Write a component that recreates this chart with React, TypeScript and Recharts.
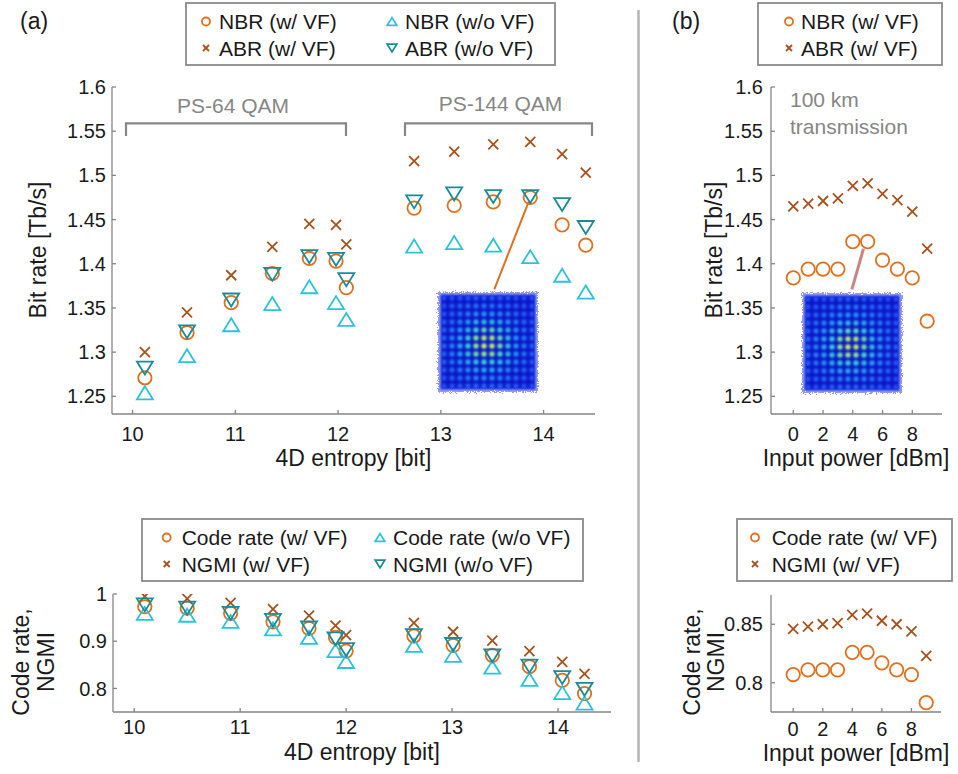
import React from 'react';
import { ScatterChart, Scatter, XAxis, YAxis, ReferenceLine } from 'recharts';

const FONT = '"Liberation Sans", Arial, Helvetica, sans-serif';

// (a) 4D entropy [bit] – the two (a) panels have different widths, so positions read per panel
const entropyTop = [10.12, 10.53, 10.96, 11.36, 11.72, 11.98, 12.08, 12.74, 13.13, 13.51, 13.87, 14.18, 14.41];
const entropyBottom = [10.1, 10.5, 10.91, 11.31, 11.65, 11.9, 12.0, 12.64, 13.01, 13.38, 13.73, 14.04, 14.25];

// (a) bit rate [Tb/s]
const nbrWithVF = [1.271, 1.322, 1.356, 1.389, 1.406, 1.403, 1.373, 1.463, 1.466, 1.47, 1.475, 1.444, 1.421];
const abrWithVF = [1.3, 1.345, 1.387, 1.419, 1.445, 1.444, 1.422, 1.516, 1.527, 1.535, 1.538, 1.524, 1.503];
const nbrNoVF = [1.254, 1.296, 1.331, 1.355, 1.374, 1.356, 1.337, 1.42, 1.424, 1.421, 1.408, 1.387, 1.368];
const abrNoVF = [1.282, 1.323, 1.359, 1.388, 1.408, 1.405, 1.382, 1.47, 1.479, 1.476, 1.476, 1.467, 1.441];

// (a) code rate / NGMI
const codeWithVF = [0.973, 0.97, 0.959, 0.941, 0.927, 0.908, 0.879, 0.911, 0.891, 0.87, 0.846, 0.817, 0.789];
const ngmiWithVF = [0.995, 0.99, 0.981, 0.968, 0.954, 0.933, 0.913, 0.939, 0.92, 0.901, 0.879, 0.856, 0.831];
const codeNoVF = [0.959, 0.955, 0.942, 0.926, 0.908, 0.88, 0.857, 0.891, 0.87, 0.845, 0.819, 0.791, 0.769];
const ngmiNoVF = [0.977, 0.97, 0.959, 0.944, 0.928, 0.905, 0.882, 0.912, 0.893, 0.869, 0.847, 0.823, 0.798];

// (b) input power [dBm]
const power = [0, 1, 2, 3, 4, 5, 6, 7, 8, 9];
const nbrPower = [1.384, 1.394, 1.394, 1.394, 1.425, 1.425, 1.404, 1.394, 1.384, 1.335];
const abrPower = [1.465, 1.468, 1.471, 1.474, 1.488, 1.491, 1.479, 1.472, 1.459, 1.417];
const codePower = [0.807, 0.811, 0.811, 0.811, 0.826, 0.826, 0.817, 0.811, 0.807, 0.783];
const ngmiPower = [0.846, 0.848, 0.85, 0.851, 0.858, 0.859, 0.853, 0.85, 0.844, 0.823];

const entropyTicks = [10, 11, 12, 13, 14];
const bitRateTicks = [1.25, 1.3, 1.35, 1.4, 1.45, 1.5, 1.55, 1.6];
const rateTicksA = [0.8, 0.9, 1];
const powerTicks = [0, 2, 4, 6, 8];
const rateTicksB = [0.8, 0.85];

const ORANGE = '#E0701F';
const BROWN = '#A5521E';
const CYAN = '#2CC2D9';
const TEAL = '#1B8C94';
const AXIS = '#858585';
const TEXT = '#1a1a1a';
const NOTE = '#868686';

const pts = (xs: number[], ys: number[]) => xs.map((x, i) => ({ x, y: ys[i] }));

type Kind = 'circle' | 'cross' | 'up' | 'down';

function marker(kind: Kind, cx: number, cy: number, s = 1) {
    if (kind === 'circle') {
        return <circle cx={cx} cy={cy} r={6.7 * s} fill="none" stroke={ORANGE} strokeWidth={1.8} />;
    }
    if (kind === 'cross') {
        const d = 5 * s;
        return (
            <path
                d={`M${cx - d},${cy - d}L${cx + d},${cy + d}M${cx - d},${cy + d}L${cx + d},${cy - d}`}
                stroke={BROWN}
                strokeWidth={1.8}
                fill="none"
            />
        );
    }
    const w = 8 * s;
    const h = 6.5 * s;
    if (kind === 'up') {
        return (
            <polygon
                points={`${cx},${cy - h} ${cx - w},${cy + h} ${cx + w},${cy + h}`}
                fill="none"
                stroke={CYAN}
                strokeWidth={1.8}
            />
        );
    }
    return (
        <polygon
            points={`${cx - w},${cy - h} ${cx + w},${cy - h} ${cx},${cy + h}`}
            fill="none"
            stroke={TEAL}
            strokeWidth={1.8}
        />
    );
}

const shape = (kind: Kind) => (p: any) => marker(kind, p.cx, p.cy);

const axisLine = { stroke: AXIS, strokeWidth: 1.3 };
const tick = { fill: TEXT, fontSize: 20, fontFamily: FONT };

function xAxis(domain: number[], ticks: number[], tickMargin: number) {
    return (
        <XAxis
            type="number"
            dataKey="x"
            domain={domain}
            ticks={ticks}
            interval={0}
            allowDataOverflow
            axisLine={axisLine}
            tickLine={axisLine}
            tickSize={-4}
            tickMargin={tickMargin}
            tick={tick}
            height={40}
        />
    );
}

function yAxis(domain: number[], ticks: number[], tickMargin = 10) {
    return (
        <YAxis
            type="number"
            dataKey="y"
            domain={domain}
            ticks={ticks}
            interval={0}
            allowDataOverflow
            axisLine={axisLine}
            tickLine={axisLine}
            tickSize={-4}
            tickMargin={tickMargin}
            tick={tick}
            width={60}
        />
    );
}

function BitRateEntropy() {
    return (
        <ScatterChart width={640} height={480} margin={{ top: 87, right: 45, bottom: 26, left: 52 }}>
            {xAxis([9.8, 14.5], entropyTicks, 17)}
            {yAxis([1.23, 1.6], bitRateTicks)}
            <ReferenceLine
                segment={[{ x: 13.52, y: 1.371 }, { x: 13.854, y: 1.47 }]}
                stroke={ORANGE}
                strokeWidth={2}
                ifOverflow="visible"
            />
            <Scatter data={pts(entropyTop, nbrWithVF)} shape={shape('circle')} isAnimationActive={false} />
            <Scatter data={pts(entropyTop, abrWithVF)} shape={shape('cross')} isAnimationActive={false} />
            <Scatter data={pts(entropyTop, nbrNoVF)} shape={shape('up')} isAnimationActive={false} />
            <Scatter data={pts(entropyTop, abrNoVF)} shape={shape('down')} isAnimationActive={false} />
        </ScatterChart>
    );
}

function RateEntropy() {
    return (
        <ScatterChart width={640} height={294} margin={{ top: 114, right: 29, bottom: 22, left: 53 }}>
            {xAxis([9.8, 14.5], entropyTicks, 12)}
            {yAxis([0.75, 1], rateTicksA)}
            <Scatter data={pts(entropyBottom, codeWithVF)} shape={shape('circle')} isAnimationActive={false} />
            <Scatter data={pts(entropyBottom, ngmiWithVF)} shape={shape('cross')} isAnimationActive={false} />
            <Scatter data={pts(entropyBottom, codeNoVF)} shape={shape('up')} isAnimationActive={false} />
            <Scatter data={pts(entropyBottom, ngmiNoVF)} shape={shape('down')} isAnimationActive={false} />
        </ScatterChart>
    );
}

function BitRatePower() {
    return (
        <ScatterChart width={318} height={480} margin={{ top: 87, right: 16, bottom: 26, left: 71 }}>
            {xAxis([-1.5, 10], powerTicks, 17)}
            {yAxis([1.23, 1.6], bitRateTicks, 12)}
            <ReferenceLine
                segment={[{ x: 3.94, y: 1.371 }, { x: 4.72, y: 1.417 }]}
                stroke="#C98585"
                strokeWidth={3}
                ifOverflow="visible"
            />
            <Scatter data={pts(power, nbrPower)} shape={shape('circle')} isAnimationActive={false} />
            <Scatter data={pts(power, abrPower)} shape={shape('cross')} isAnimationActive={false} />
        </ScatterChart>
    );
}

function RatePower() {
    return (
        <ScatterChart width={318} height={294} margin={{ top: 115, right: 17, bottom: 22, left: 71 }}>
            {xAxis([-1.5, 10], powerTicks, 14)}
            {yAxis([0.775, 0.875], rateTicksB, 12)}
            <Scatter data={pts(power, codePower)} shape={shape('circle')} isAnimationActive={false} />
            <Scatter data={pts(power, ngmiPower)} shape={shape('cross')} isAnimationActive={false} />
        </ScatterChart>
    );
}

// constellation inset (picture only, not data)
function mix(a: number[], b: number[], t: number) {
    return `rgb(${a.map((v, i) => Math.round(v + (b[i] - v) * t)).join(',')})`;
}
function dotColor(t: number) {
    const stops: [number, number[]][] = [
        [0, [35, 70, 245]],
        [0.4, [35, 150, 245]],
        [0.7, [50, 210, 215]],
        [1, [200, 240, 90]],
    ];
    for (let k = 1; k < stops.length; k++) {
        if (t <= stops[k][0]) {
            const [t0, c0] = stops[k - 1];
            const [t1, c1] = stops[k];
            return mix(c0, c1, (t - t0) / (t1 - t0));
        }
    }
    return mix(stops[3][1], stops[3][1], 0);
}

function Constellation({ x, y, size }: { x: number; y: number; size: number }) {
    const n = 12;
    const step = size / n;
    const dots = [];
    for (let i = 0; i < n; i++) {
        for (let j = 0; j < n; j++) {
            const d = Math.hypot(i - 5.3, j - 5.8);
            const t = Math.exp(-(d * d) / (2 * 2.7 * 2.7));
            dots.push(
                <circle
                    key={`${i}-${j}`}
                    cx={x + (i + 0.5) * step}
                    cy={y + (j + 0.5) * step}
                    r={step * 0.34}
                    fill={dotColor(t)}
                    filter="url(#dotBlur)"
                />
            );
        }
    }
    return (
        <g>
            <rect x={x - 2} y={y - 2} width={size + 4} height={size + 4} fill="#3a48e6" opacity={0.55} filter="url(#ragged)" />
            <rect x={x + 1} y={y + 1} width={size - 2} height={size - 2} fill="#0d18c6" filter="url(#bgBlur)" />
            {dots}
        </g>
    );
}

function LegendBox({
    x, y, w, h, rows,
}: {
    x: number; y: number; w: number; h: number;
    rows: { kind: Kind; mx: number; tx: number; ty: number; label: string }[];
}) {
    return (
        <g>
            <rect x={x} y={y} width={w} height={h} fill="#fff" stroke="#8a8a8a" strokeWidth={1.8} />
            {rows.map((r) => (
                <g key={r.label}>
                    {marker(r.kind, r.mx, r.ty, 0.6)}
                    <text x={r.tx} y={r.ty + 7.5} fontSize={21} fill={TEXT}>{r.label}</text>
                </g>
            ))}
        </g>
    );
}

function Overlay() {
    const title = { fontSize: 23, fill: TEXT, textAnchor: 'middle' as const };
    return (
        <svg width={958} height={774} style={{ position: 'absolute', left: 0, top: 0, pointerEvents: 'none' }} fontFamily={FONT}>
            <defs>
                <filter id="dotBlur" x="-50%" y="-50%" width="200%" height="200%">
                    <feGaussianBlur stdDeviation={0.8} />
                </filter>
                <filter id="bgBlur" x="-20%" y="-20%" width="140%" height="140%">
                    <feGaussianBlur stdDeviation={1.2} />
                </filter>
                <filter id="ragged" x="-20%" y="-20%" width="140%" height="140%">
                    <feTurbulence type="fractalNoise" baseFrequency={0.9} numOctaves={1} seed={3} result="noise" />
                    <feDisplacementMap in="SourceGraphic" in2="noise" scale={7} xChannelSelector="R" yChannelSelector="G" result="d" />
                    <feGaussianBlur in="d" stdDeviation={0.6} />
                </filter>
            </defs>

            <text x={20} y={29} fontSize={23} fill={TEXT}>(a)</text>
            <text x={672} y={29} fontSize={23} fill={TEXT}>(b)</text>
            <line x1={638.5} y1={10} x2={638.5} y2={762} stroke="#b5b5b5" strokeWidth={2.5} />

            <LegendBox
                x={186} y={3} w={369} h={62}
                rows={[
                    { kind: 'circle', mx: 206, tx: 219, ty: 21.5, label: 'NBR (w/ VF)' },
                    { kind: 'up', mx: 392, tx: 405, ty: 21.5, label: 'NBR (w/o VF)' },
                    { kind: 'cross', mx: 206, tx: 219, ty: 48, label: 'ABR (w/ VF)' },
                    { kind: 'down', mx: 392, tx: 405, ty: 48, label: 'ABR (w/o VF)' },
                ]}
            />
            <LegendBox
                x={758} y={3} w={184} h={62}
                rows={[
                    { kind: 'circle', mx: 789, tx: 801, ty: 21.5, label: 'NBR (w/ VF)' },
                    { kind: 'cross', mx: 789, tx: 801, ty: 48, label: 'ABR (w/ VF)' },
                ]}
            />
            <LegendBox
                x={142} y={519} w={441} h={62}
                rows={[
                    { kind: 'circle', mx: 166.7, tx: 181.7, ty: 537.5, label: 'Code rate (w/ VF)' },
                    { kind: 'up', mx: 380, tx: 393, ty: 537.5, label: 'Code rate (w/o VF)' },
                    { kind: 'cross', mx: 166.7, tx: 181.7, ty: 564, label: 'NGMI (w/ VF)' },
                    { kind: 'down', mx: 380, tx: 393, ty: 564, label: 'NGMI (w/o VF)' },
                ]}
            />
            <LegendBox
                x={737} y={519} w={215} h={62}
                rows={[
                    { kind: 'circle', mx: 755, tx: 771.7, ty: 537.5, label: 'Code rate (w/ VF)' },
                    { kind: 'cross', mx: 755, tx: 771.7, ty: 564, label: 'NGMI (w/ VF)' },
                ]}
            />

            <text x={353.5} y={466} {...title}>4D entropy [bit]</text>
            <text x={856} y={466} {...title}>Input power [dBm]</text>
            <text x={362} y={760} {...title}>4D entropy [bit]</text>
            <text x={856} y={761} {...title}>Input power [dBm]</text>
            <text transform="translate(38,250) rotate(-90)" dominantBaseline="central" {...title}>Bit rate [Tb/s]</text>
            <text transform="translate(714,250) rotate(-90)" dominantBaseline="central" {...title}>Bit rate [Tb/s]</text>
            <text transform="translate(21,662) rotate(-90)" dominantBaseline="central" {...title}>Code rate,</text>
            <text transform="translate(46,662) rotate(-90)" dominantBaseline="central" {...title}>NGMI</text>
            <text transform="translate(692,662) rotate(-90)" dominantBaseline="central" {...title}>Code rate,</text>
            <text transform="translate(716,662) rotate(-90)" dominantBaseline="central" {...title}>NGMI</text>

            <text x={233} y={113} fontSize={21} fill={NOTE} textAnchor="middle">PS-64 QAM</text>
            <path d="M126,136V123.3H346V136" stroke={NOTE} strokeWidth={2.2} fill="none" />
            <text x={500.5} y={111} fontSize={21} fill={NOTE} textAnchor="middle">PS-144 QAM</text>
            <path d="M405,136V123.3H592V136" stroke={NOTE} strokeWidth={2.2} fill="none" />
            <text x={790} y={107} fontSize={21} fill={NOTE}>100 km</text>
            <text x={790} y={134} fontSize={21} fill={NOTE}>transmission</text>

            <Constellation x={440} y={294} size={96} />
            <Constellation x={804} y={295} size={96} />
        </svg>
    );
}

export default function App() {
    return (
        <div style={{ position: 'absolute', left: 0, top: 0, width: 958, height: 774, background: '#fff', fontFamily: FONT }}>
            <div style={{ position: 'absolute', left: 0, top: 0 }}>
                <BitRateEntropy />
            </div>
            <div style={{ position: 'absolute', left: 0, top: 480 }}>
                <RateEntropy />
            </div>
            <div style={{ position: 'absolute', left: 640, top: 0 }}>
                <BitRatePower />
            </div>
            <div style={{ position: 'absolute', left: 640, top: 480 }}>
                <RatePower />
            </div>
            <Overlay />
        </div>
    );
}
